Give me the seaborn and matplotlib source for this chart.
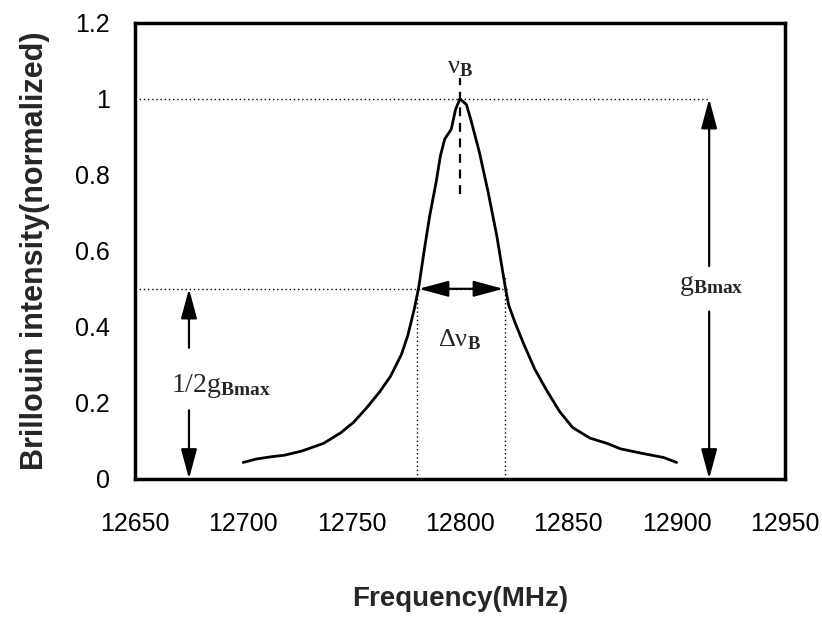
import numpy as np
import pandas as pd
import matplotlib
matplotlib.use("Agg")
import matplotlib.pyplot as plt
import seaborn as sns
from matplotlib.ticker import FuncFormatter

# ---- data ----
freq = [12700, 12706, 12713, 12719, 12727, 12737, 12745, 12751, 12757, 12763,
        12768, 12773, 12776, 12779, 12781, 12783.5, 12786, 12789, 12791, 12793,
        12796, 12798, 12800, 12803, 12805, 12809, 12813, 12817, 12821, 12822.5,
        12825.5, 12829.5, 12834.5, 12840, 12846, 12852, 12860, 12868, 12874, 12884,
        12894, 12900]
intensity = [0.043, 0.052, 0.058, 0.062, 0.073, 0.093, 0.121, 0.149, 0.187, 0.229,
             0.270, 0.327, 0.378, 0.448, 0.504, 0.600, 0.690, 0.780, 0.850, 0.894,
             0.920, 0.972, 1.000, 0.985, 0.946, 0.859, 0.755, 0.640, 0.502, 0.457,
             0.410, 0.354, 0.289, 0.233, 0.177, 0.135, 0.107, 0.093, 0.079, 0.067,
             0.056, 0.043]
x_ticks = [12650, 12700, 12750, 12800, 12850, 12900, 12950]
y_ticks = [0, 0.2, 0.4, 0.6, 0.8, 1.0, 1.2]
peak_freq = 12800
peak_val = 1.0
half_val = 0.5
half_left = 12781
half_right = 12820
x_label = "Frequency(MHz)"
y_label = "Brillouin intensity(normalized)"

df = pd.DataFrame({"freq": freq, "intensity": intensity})

sns.set_style("white")
plt.rcParams["font.family"] = ["Liberation Sans", "DejaVu Sans"]
plt.rcParams["mathtext.fontset"] = "custom"
plt.rcParams["mathtext.rm"] = "Liberation Serif"
plt.rcParams["mathtext.it"] = "Liberation Serif:italic"
plt.rcParams["mathtext.bf"] = "Liberation Serif:bold"

fig = plt.figure(figsize=(8.22, 6.17), dpi=100)
ax = fig.add_axes([0.164, 0.224, 0.791, 0.739])

sns.lineplot(data=df, x="freq", y="intensity", ax=ax, color="black",
             linewidth=2.0, estimator=None, sort=False)

ax.set_xlim(12650, 12950)
ax.set_ylim(0, 1.2)
ax.set_xticks(x_ticks)
ax.set_yticks(y_ticks)
ax.yaxis.set_major_formatter(FuncFormatter(lambda v, p: f"{v:g}"))
ax.tick_params(axis="both", direction="in", colors="black", labelsize=18,
               width=1.5, pad=24)
ax.tick_params(axis="x", length=8)
ax.tick_params(axis="y", length=4, pad=18)
for s in ax.spines.values():
    s.set_visible(True)
    s.set_color("black")
    s.set_linewidth(2.5)

ax.set_xlabel(x_label, fontsize=20, fontweight="bold", labelpad=36)
ax.set_ylabel(y_label, fontsize=22, fontweight="bold", labelpad=18)

# guide lines
dot = dict(color="black", linestyle=(0, (1, 2)), linewidth=1.0)
ax.plot([12650, 12915], [peak_val, peak_val], **dot)
ax.plot([12650, half_right + 2], [half_val, half_val], **dot)
ax.plot([half_left - 1, half_left - 1], [0, half_val], **dot)
ax.plot([half_right + 1, half_right + 1], [0, 0.53], **dot)
ax.plot([peak_freq, peak_freq], [0.75, 1.055], color="black",
        linestyle=(0, (4, 3)), linewidth=1.6)

arrow = dict(arrowstyle="-|>,head_length=1.3,head_width=0.35", color="black",
             lw=1.6, mutation_scale=14, shrinkA=0, shrinkB=0)
darrow = dict(arrowstyle="<|-|>,head_length=1.3,head_width=0.35", color="black",
              lw=1.6, mutation_scale=14, shrinkA=0, shrinkB=0)

# FWHM arrow
ax.annotate("", xy=(half_right, half_val), xytext=(half_left, half_val), arrowprops=darrow)
# 1/2 gBmax arrows
ax.annotate("", xy=(12675, half_val), xytext=(12675, 0.345), arrowprops=arrow)
ax.annotate("", xy=(12675, 0), xytext=(12675, 0.18), arrowprops=arrow)
# gBmax arrows
ax.annotate("", xy=(12915, peak_val), xytext=(12915, 0.56), arrowprops=arrow)
ax.annotate("", xy=(12915, 0), xytext=(12915, 0.44), arrowprops=arrow)

ax.text(peak_freq, 1.085, r"$\mathrm{\nu_{\mathbf{B}}}$", ha="center", va="center", fontsize=19)
ax.text(peak_freq, 0.365, r"$\mathrm{\Delta\nu_{\mathbf{B}}}$", ha="center", va="center", fontsize=19)
ax.text(12916, 0.51, r"$\mathrm{g_{\mathbf{Bmax}}}$", ha="center", va="center", fontsize=20)
ax.text(12690, 0.245, r"$\mathrm{1/2g_{\mathbf{Bmax}}}$", ha="center", va="center", fontsize=20,
        bbox=dict(facecolor="white", edgecolor="none", pad=1))

fig.savefig("out.png", dpi=100)
